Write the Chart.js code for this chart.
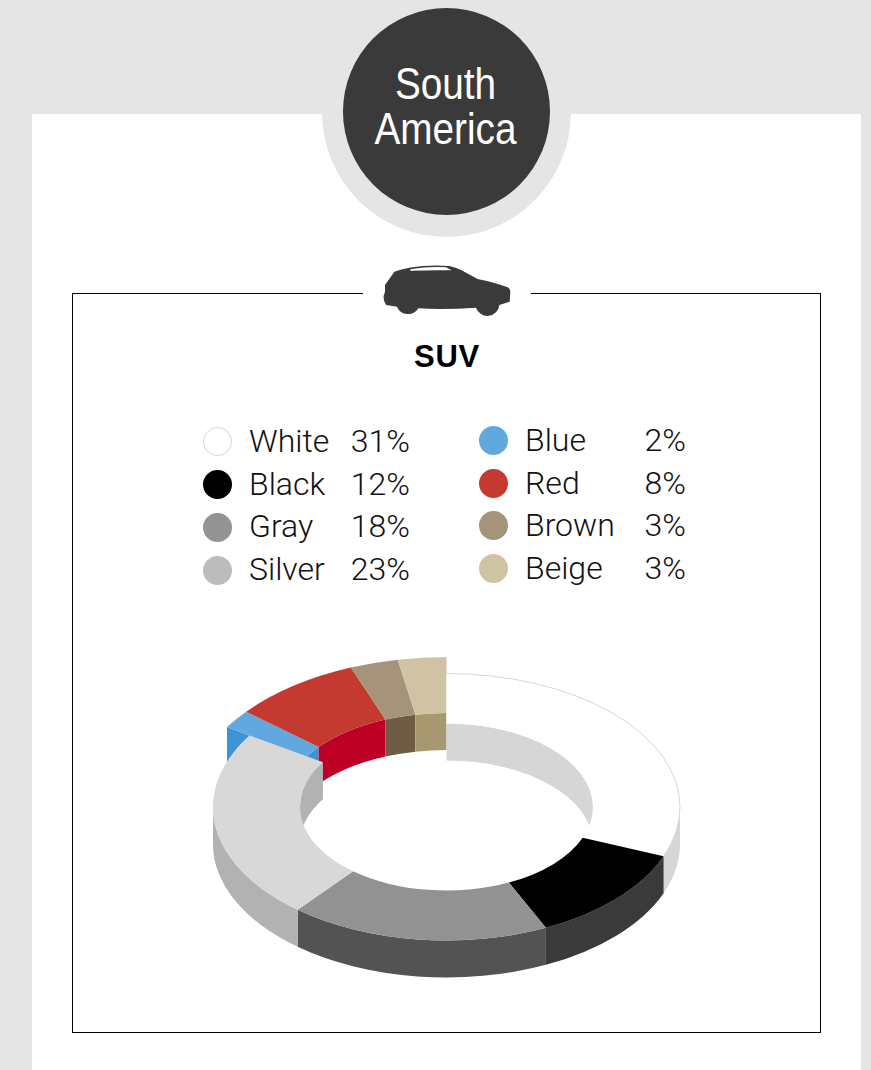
<!DOCTYPE html>
<html>
<head>
<meta charset="utf-8">
<title>South America - SUV</title>
<script src="https://cdn.jsdelivr.net/npm/chart.js@4/dist/chart.umd.min.js"></script>
<style>
    html, body { margin: 0; padding: 0; }
    body { position: relative; width: 871px; height: 1070px; overflow: hidden; background: #e5e5e5; }
    .abs { position: absolute; }
    #panel { left: 32px; top: 114px; width: 829px; height: 956px; background: #fff; }
    #halo { left: 321.5px; top: -13px; width: 249.5px; height: 250px; border-radius: 50%; background: #e5e5e5; }
    #badge { left: 343px; top: 8px; width: 207px; height: 207px; border-radius: 50%; background: #3a3a3a; }
    #region { left: 342px; top: 61px; width: 207px; text-align: center; color: #fff;
        font: 44px/45px "Liberation Sans", sans-serif; transform: scaleX(0.88); }
    #box { left: 72px; top: 293px; width: 747px; height: 738px; border: 1px solid #000; }
    #gap { left: 363px; top: 285px; width: 168px; height: 16px; background: #fff; }
    #car { left: 361px; top: 255px; width: 180px; height: 70px; }
    #type { left: 347px; top: 338px; width: 200px; text-align: center; color: #000;
        font: 700 31px/38px "Liberation Sans", sans-serif; letter-spacing: 0.8px; }
    .dot { width: 29px; height: 29px; border-radius: 50%; box-sizing: border-box; }
    .name, .pct { color: #111; font: 300 32px/40px Roboto, sans-serif; white-space: nowrap; }
    .pct { text-align: right; width: 90px; }
    #pie { left: 196px; top: 557px; }
</style>
</head>
<body>
<div class="abs" id="panel"></div>
<div class="abs" id="halo"></div>
<div class="abs" id="badge"></div>
<div class="abs" id="region">South<br>America</div>
<div class="abs" id="box"></div>
<div class="abs" id="gap"></div>
<svg class="abs" id="car" viewBox="0 0 540 210">
    <path fill="#3a3a3a" d="M72 90 L100 50 Q120 42 145 38 Q200 29 265 33 Q285 37 300 45 L350 72 Q400 82 440 97 Q448 102 448 110 L446 140 L415 150 A36 36 0 0 1 345 158 Q250 165 172 160 A36 36 0 0 1 108 155 L75 150 Q66 135 68 122 L72 110 Z"/>
    <path fill="#fff" d="M148 43 Q200 34 255 37 L272 46 Q210 45 148 47 Z"/>
</svg>
<div class="abs" id="type">SUV</div>
<div id="legend"></div>
<canvas class="abs" id="pie" width="501" height="500"></canvas>

<script>
(function() {
    'use strict';

    const labels = ['White', 'Black', 'Gray', 'Silver', 'Blue', 'Red', 'Brown', 'Beige'];
    const values = [31, 12, 18, 23, 2, 8, 3, 3];
    const topColors = ['#ffffff', '#000000', '#929292', '#d8d8d8', '#62a8e0', '#c43a30', '#a59479', '#cfc3a3'];
    const wallColors = ['#d6d6d6', '#3a3a3a', '#535353', '#b2b2b2', '#3d93d5', '#be0027', '#705c44', '#a8986f'];
    const dotColors = ['#ffffff', '#000000', '#939393', '#bcbcbc', '#62a8e0', '#c43a30', '#a59479', '#cfc3a3'];
    const raisedLabels = ['Blue', 'Red', 'Brown', 'Beige'];

    // legend rows, left column then right column
    const dotRows = [441.5, 484.5, 527, 570, 440.5, 483, 525.5, 568.5];
    const textRows = [441, 484, 526, 569, 440, 483, 525, 568];

    function addLegend() {
        const root = document.getElementById('legend');
        labels.forEach((label, i) => {
            const second = i >= 4;
            const dot = document.createElement('div');
            dot.className = 'abs dot';
            dot.style.left = (second ? 479 : 203) + 'px';
            dot.style.top = (dotRows[i] - 14.5) + 'px';
            dot.style.background = dotColors[i];
            if (label === 'White') dot.style.border = '1px solid #d6d6d6';
            root.appendChild(dot);

            const name = document.createElement('div');
            name.className = 'abs name';
            name.style.left = (second ? 525 : 249) + 'px';
            name.style.top = (textRows[i] - 20) + 'px';
            name.textContent = label;
            root.appendChild(name);

            const pct = document.createElement('div');
            pct.className = 'abs pct';
            pct.style.left = (second ? 596 : 320) + 'px';
            pct.style.top = (textRows[i] - 20) + 'px';
            pct.textContent = values[i] + '%';
            root.appendChild(pct);
        });
    }

    const DEPTH = 37;
    // flat ring, and the larger ring the raised slices sit on
    const flatRing = { outerScale: 1, innerScale: 1, outerSquash: 0.5717, innerSquash: 0.57, outerShift: 0, innerShift: 0 };
    const raisedRing = { outerScale: 1.1135, innerScale: 1.133, outerSquash: 0.5808, innerSquash: 0.5663, outerShift: 1, innerShift: 0 };

    function ellipseOf(arc, ring, side) {
        const r = side === 'outer' ? arc.outerRadius * ring.outerScale : arc.innerRadius * ring.innerScale;
        const squash = side === 'outer' ? ring.outerSquash : ring.innerSquash;
        const shift = side === 'outer' ? ring.outerShift : ring.innerShift;
        return { x: arc.x, y: arc.y + shift, rx: r, ry: r * squash };
    }

    function topPath(ctx, arc, ring) {
        const o = ellipseOf(arc, ring, 'outer');
        const n = ellipseOf(arc, ring, 'inner');
        ctx.beginPath();
        ctx.ellipse(o.x, o.y, o.rx, o.ry, 0, arc.startAngle, arc.endAngle);
        ctx.ellipse(n.x, n.y, n.rx, n.ry, 0, arc.endAngle, arc.startAngle, true);
        ctx.closePath();
    }

    // band between an ellipse and the same ellipse pushed down by DEPTH
    function fillBand(ctx, e, from, to) {
        const a = Math.max(from[0], to[0]);
        const b = Math.min(from[1], to[1]);
        if (b <= a) return;
        ctx.beginPath();
        ctx.ellipse(e.x, e.y, e.rx, e.ry, 0, a, b);
        ctx.ellipse(e.x, e.y + DEPTH, e.rx, e.ry, 0, b, a, true);
        ctx.closePath();
        ctx.fill();
    }

    // cut face of a slice at one of its end angles
    function fillFace(ctx, arc, ring, angle, color) {
        const o = ellipseOf(arc, ring, 'outer');
        const n = ellipseOf(arc, ring, 'inner');
        const ox = o.x + o.rx * Math.cos(angle), oy = o.y + o.ry * Math.sin(angle);
        const nx = n.x + n.rx * Math.cos(angle), ny = n.y + n.ry * Math.sin(angle);
        ctx.fillStyle = color;
        ctx.beginPath();
        ctx.moveTo(ox, oy);
        ctx.lineTo(nx, ny);
        ctx.lineTo(nx, ny + DEPTH);
        ctx.lineTo(ox, oy + DEPTH);
        ctx.closePath();
        ctx.fill();
    }

    function drawRing(ctx, arcs, indexes, ring) {
        // only the two ends of the group have an exposed cut face
        const first = indexes[0];
        const last = indexes[indexes.length - 1];
        fillFace(ctx, arcs[first], ring, arcs[first].startAngle, wallColors[first]);
        fillFace(ctx, arcs[last], ring, arcs[last].endAngle, wallColors[last]);

        indexes.forEach(i => {
            const arc = arcs[i];
            const range = [arc.startAngle, arc.endAngle];
            ctx.fillStyle = wallColors[i];
            // near half shows the outer wall, far half the inner wall
            fillBand(ctx, ellipseOf(arc, ring, 'outer'), range, [0, Math.PI]);
            fillBand(ctx, ellipseOf(arc, ring, 'inner'), range, [-Math.PI / 2, 0]);
            fillBand(ctx, ellipseOf(arc, ring, 'inner'), range, [Math.PI, Math.PI * 1.5]);
        });
        indexes.forEach(i => {
            ctx.fillStyle = topColors[i];
            topPath(ctx, arcs[i], ring);
            ctx.fill();
        });
    }

    const tiltedRing = {
        id: 'tiltedRing',
        beforeDatasetsDraw(chart) {
            const ctx = chart.ctx;
            const arcs = chart.getDatasetMeta(0).data;
            const raised = labels.map((l, i) => i).filter(i => raisedLabels.includes(labels[i]));
            const flat = labels.map((l, i) => i).filter(i => !raisedLabels.includes(labels[i]));

            ctx.save();
            drawRing(ctx, arcs, raised, raisedRing);
            drawRing(ctx, arcs, flat, flatRing);

            // hairline round the white slice, otherwise it is lost on the panel
            const white = arcs[labels.indexOf('White')];
            ctx.strokeStyle = '#d6d6d6';
            ctx.lineWidth = 1;
            ctx.beginPath();
            ctx.ellipse(white.x, white.y, white.outerRadius, white.outerRadius * flatRing.outerSquash, 0, white.startAngle, white.endAngle);
            ctx.stroke();
            ctx.restore();
            return false;
        }
    };

    addLegend();

    new Chart(document.getElementById('pie'), {
        type: 'doughnut',
        data: {
            labels,
            datasets: [{
                data: values,
                backgroundColor: topColors,
                borderWidth: 0
            }]
        },
        options: {
            responsive: false,
            animation: false,
            radius: 233.5,
            cutout: '62.74%',
            layout: { padding: 0 },
            plugins: {
                legend: { display: false },
                tooltip: { enabled: false }
            }
        },
        plugins: [tiltedRing]
    });
})();
</script>
</body>
</html>
